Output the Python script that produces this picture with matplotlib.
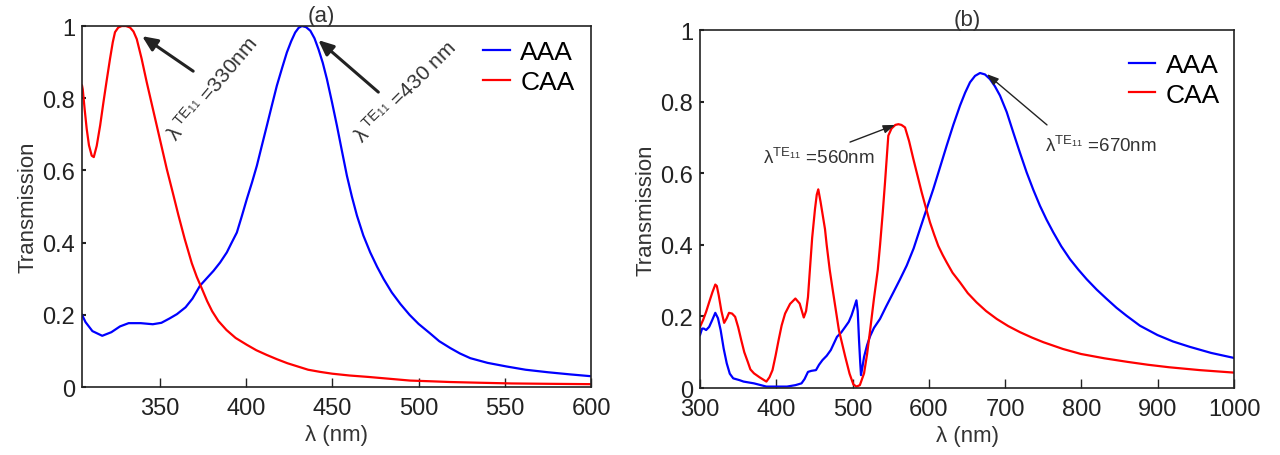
import matplotlib
matplotlib.use("Agg")
import matplotlib.pyplot as plt

plt.rcParams['font.family'] = ['Liberation Sans', 'DejaVu Sans']
plt.rcParams['mathtext.fontset'] = 'custom'
plt.rcParams['mathtext.rm'] = 'Liberation Sans'
plt.rcParams['mathtext.it'] = 'Liberation Sans:italic'

# (a) spectra
wl_a_aaa = [305, 307, 311, 316.7, 322, 327, 332, 339, 346, 351, 355.7, 360, 365, 369,
            373.4, 377, 381.2, 385, 388.9, 391.5, 394.7, 397.5, 400.5, 403.5, 406.3, 409,
            412.1, 415, 417.9, 421, 423.7, 426.2, 428.5, 430.5, 432.4, 434.8, 437.3, 439.7,
            442, 444.5, 446.9, 449.8, 452.7, 455.6, 458.5, 461.4, 464.3, 468, 472, 476,
            479.8, 484.5, 489.5, 494.8, 500, 506.6, 512, 518.4, 524, 530, 540, 551, 562,
            575, 588, 600]
t_a_aaa = [0.20, 0.18, 0.155, 0.142, 0.152, 0.168, 0.177, 0.177, 0.174, 0.178, 0.19, 0.202,
           0.221, 0.245, 0.281, 0.3, 0.322, 0.345, 0.373, 0.398, 0.428, 0.472, 0.521, 0.567,
           0.613, 0.665, 0.724, 0.78, 0.835, 0.885, 0.927, 0.958, 0.982, 0.995, 1.0, 0.997,
           0.987, 0.966, 0.936, 0.898, 0.853, 0.79, 0.724, 0.654, 0.585, 0.527, 0.475, 0.42,
           0.373, 0.333, 0.299, 0.262, 0.23, 0.2, 0.175, 0.149, 0.127, 0.108, 0.093, 0.080,
           0.067, 0.057, 0.048, 0.041, 0.035, 0.030]
wl_a_caa = [305, 305.4, 306.5, 307.7, 309, 310.6, 311.8, 313.5, 315.5, 317.4, 319.3, 321.2,
            322.8, 324.1, 326, 328, 330.5, 332.8, 334.8, 336.7, 339.5, 342.5, 345.4, 348.3,
            351.2, 354.1, 357.5, 360.9, 364.5, 368.6, 371.5, 374.5, 377.5, 380.4, 384, 388.7,
            394, 400.5, 406, 412, 418, 424, 430, 436, 443, 450, 460, 471, 483, 495, 507, 518,
            535, 554, 575, 600]
t_a_caa = [0.835, 0.825, 0.77, 0.715, 0.67, 0.641, 0.637, 0.668, 0.725, 0.789, 0.85, 0.909,
           0.955, 0.983, 0.996, 1.0, 1.0, 0.996, 0.985, 0.964, 0.91, 0.844, 0.784, 0.724,
           0.664, 0.604, 0.54, 0.475, 0.41, 0.343, 0.305, 0.272, 0.238, 0.21, 0.183, 0.158,
           0.136, 0.117, 0.102, 0.089, 0.077, 0.066, 0.057, 0.048, 0.042, 0.037, 0.032,
           0.028, 0.023, 0.018, 0.016, 0.014, 0.012, 0.010, 0.009, 0.008]

# (b) spectra
wl_b_aaa = [300, 302.7, 305, 308, 312, 316, 320, 323.5, 327, 331, 335, 339, 343.5, 351.7,
            357, 370.7, 387, 400, 414, 425, 433, 437, 441.5, 446, 452, 456, 460.5, 466,
            471.4, 479.5, 485, 490.4, 495, 498.6, 502, 505, 506.7, 508.4, 510, 511, 513,
            515, 519, 523, 528, 535.9, 544, 553.4, 562, 570.9, 580, 588.3, 597, 605.8,
            614.5, 623.3, 632, 640.8, 647.5, 653.9, 660.5, 667, 673.5, 680, 686.5, 693.2,
            702, 710.6, 719.4, 728.2, 737, 745.6, 754.3, 763, 773.5, 784.9, 795.8, 806.8,
            819.9, 833, 846, 859, 876.7, 899.6, 920, 942, 970, 1000]
t_b_aaa = [0.148, 0.166, 0.166, 0.162, 0.171, 0.19, 0.21, 0.195, 0.162, 0.11, 0.069, 0.04,
           0.027, 0.022, 0.018, 0.013, 0.004, 0.004, 0.004, 0.008, 0.013, 0.025, 0.045,
           0.048, 0.05, 0.065, 0.078, 0.09, 0.106, 0.143, 0.155, 0.171, 0.185, 0.203, 0.225,
           0.245, 0.215, 0.134, 0.07, 0.036, 0.06, 0.087, 0.12, 0.145, 0.168, 0.193, 0.228,
           0.267, 0.303, 0.342, 0.39, 0.444, 0.5, 0.556, 0.616, 0.677, 0.735, 0.789, 0.825,
           0.854, 0.872, 0.88, 0.876, 0.863, 0.843, 0.817, 0.771, 0.714, 0.657, 0.602,
           0.553, 0.509, 0.47, 0.435, 0.396, 0.36, 0.331, 0.304, 0.275, 0.249, 0.224, 0.202,
           0.174, 0.148, 0.13, 0.115, 0.098, 0.084]
wl_b_caa = [300, 304, 308, 312, 316.3, 320, 322, 324.5, 328, 331.6, 335, 338, 342, 346, 350,
            354, 358, 362.6, 366, 370.7, 378, 387, 391, 395, 399, 403, 407, 411.5, 418, 425,
            430.6, 436, 439, 441.5, 444, 447, 450.7, 453, 455, 458, 463.8, 466, 470, 474,
            482, 490.4, 496, 501, 505, 509.5, 515, 519, 523, 528, 533, 536, 539.5, 542.5,
            546.8, 551, 556, 560, 564, 568.7, 574, 579.6, 585, 590.5, 596, 601.4, 607, 612.3,
            618, 623.3, 631, 640.8, 651, 662.6, 675, 688.9, 704, 719.4, 735, 750, 775.8,
            799.5, 830, 860.4, 887, 914.8, 955, 1000]
t_b_caa = [0.171, 0.19, 0.213, 0.24, 0.268, 0.289, 0.285, 0.259, 0.215, 0.182, 0.195, 0.21,
           0.208, 0.199, 0.17, 0.134, 0.1, 0.073, 0.052, 0.041, 0.03, 0.018, 0.03, 0.05,
           0.09, 0.134, 0.175, 0.208, 0.235, 0.25, 0.236, 0.197, 0.215, 0.254, 0.33, 0.42,
           0.5, 0.54, 0.555, 0.52, 0.444, 0.4, 0.33, 0.273, 0.162, 0.087, 0.04, 0.01, 0.004,
           0.008, 0.041, 0.095, 0.162, 0.25, 0.33, 0.4, 0.49, 0.575, 0.705, 0.725, 0.735,
           0.737, 0.735, 0.728, 0.69, 0.64, 0.594, 0.547, 0.504, 0.463, 0.428, 0.397, 0.372,
           0.351, 0.322, 0.295, 0.265, 0.239, 0.215, 0.193, 0.173, 0.156, 0.141, 0.128,
           0.109, 0.095, 0.083, 0.073, 0.065, 0.058, 0.05, 0.043]

fig = plt.figure(figsize=(12.8, 4.56), dpi=100)
ax_a = fig.add_axes([0.0641, 0.149, 0.3977, 0.7917])
ax_b = fig.add_axes([0.5469, 0.1469, 0.4172, 0.785])

for ax, w1, t1, w2, t2 in [(ax_a, wl_a_aaa, t_a_aaa, wl_a_caa, t_a_caa),
                           (ax_b, wl_b_aaa, t_b_aaa, wl_b_caa, t_b_caa)]:
    ax.plot(w1, t1, color='#0000ff', lw=1.6, label='AAA')
    ax.plot(w2, t2, color='#ff0000', lw=1.6, label='CAA')
    ax.set_ylim(0, 1)
    ax.set_yticks([0, 0.2, 0.4, 0.6, 0.8, 1])
    ax.set_yticklabels(['0', '0.2', '0.4', '0.6', '0.8', '1'])
    ax.tick_params(axis='x', direction='in', length=6.5, width=1, labelsize=17, pad=7,
                   colors='#222222')
    ax.tick_params(axis='y', direction='in', length=3, width=1.5, labelsize=17, pad=5,
                   colors='#222222')
    ax.set_xlabel('λ (nm)', fontsize=16, color='#333333', labelpad=4)
    ax.set_ylabel('Transmission', fontsize=16, color='#333333', labelpad=3)
    for s in ax.spines.values():
        s.set_color('#222222')
        s.set_linewidth(1.2)

ax_a.set_xlim(305, 600)
ax_a.set_xticks([350, 400, 450, 500, 550, 600])
ax_b.set_xlim(300, 1000)
ax_b.set_xticks(range(300, 1001, 100))

ax_a.set_title('(a)', fontsize=16, color='#333333', pad=1, x=0.47)
ax_b.set_title('(b)', fontsize=16, color='#333333', pad=3)

leg_kw = dict(loc='upper left', frameon=False, fontsize=19, handlelength=1.0,
              handletextpad=0.4, labelspacing=0.2, borderpad=0, borderaxespad=0)
ax_a.legend(bbox_to_anchor=(0.788, 0.96), **leg_kw)
ax_b.legend(bbox_to_anchor=(0.803, 0.935), **leg_kw)

# resonance labels
thick = dict(arrowstyle='-|>,head_length=0.9,head_width=0.4', color='#222222', lw=2.2,
             shrinkA=0, shrinkB=0)
thin = dict(arrowstyle='-|>,head_length=0.7,head_width=0.25', color='#222222', lw=1.0,
            shrinkA=0, shrinkB=0)

ax_a.annotate('', xy=(339.8, 0.972), xytext=(369.4, 0.875), arrowprops=thick)
ax_a.text(380.7, 0.828, r'λ$^{\ \mathrm{TE}_{11}}$ =330nm', rotation=50, fontsize=15,
          color='#333333', ha='center', va='center', rotation_mode='anchor')
ax_a.annotate('', xy=(441.9, 0.961), xytext=(476.7, 0.817), arrowprops=thick)
ax_a.text(492.4, 0.819, r'λ$^{\ \mathrm{TE}_{11}}$ =430 nm', rotation=45, fontsize=15,
          color='#333333', ha='center', va='center', rotation_mode='anchor')

ax_b.annotate('', xy=(555.6, 0.735), xytext=(496.6, 0.687), arrowprops=thin)
ax_b.text(382.6, 0.645, r'λ$^{\mathrm{TE}_{11}}$ =560nm', fontsize=13.5, color='#333333',
          ha='left', va='center')
ax_b.annotate('', xy=(676, 0.877), xytext=(754.8, 0.735), arrowprops=thin)
ax_b.text(752, 0.679, r'λ$^{\mathrm{TE}_{11}}$ =670nm', fontsize=13.5, color='#333333',
          ha='left', va='center')

fig.savefig('out.png', dpi=100)
